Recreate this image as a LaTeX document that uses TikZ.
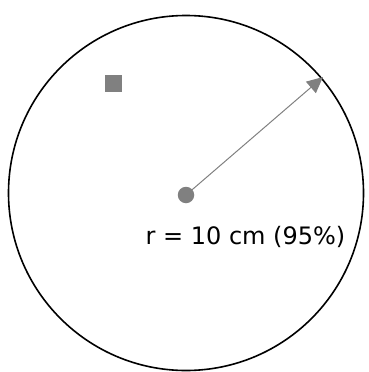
\documentclass[tikz,border=0pt]{standalone}
\usepackage{fontspec}
\setmainfont{DejaVu Sans}
\usetikzlibrary{arrows.meta}
\definecolor{mygray}{HTML}{808080}
\tikzset{
  ring/.style={draw=black,line width=1.6pt},
  hub/.style={circle,fill=mygray,inner sep=0pt,minimum size=16.5pt},
  mark2/.style={fill=mygray,inner sep=0pt,minimum size=17pt},
  radius arrow/.style={draw=mygray,line width=1pt,-{Triangle[length=16pt,width=15pt]}},
  lbl/.style={font=\fontsize{24}{28}\selectfont,inner sep=0pt}
}
\begin{document}
\begin{tikzpicture}[x=1pt,y=-1pt]
\useasboundingbox (0,0) rectangle (368,372);
\draw[ring] (186,193) circle[radius=177.5];
\node[hub] (c) at (186,195) {};
\node[mark2] (sq) at (113.5,83) {};
\coordinate (tip) at (323,77);
\draw[radius arrow] (c.center) -- (tip);
\node[lbl] (t) at (245.5,237) {r = 10 cm (95\%)};
\end{tikzpicture}
\end{document}
